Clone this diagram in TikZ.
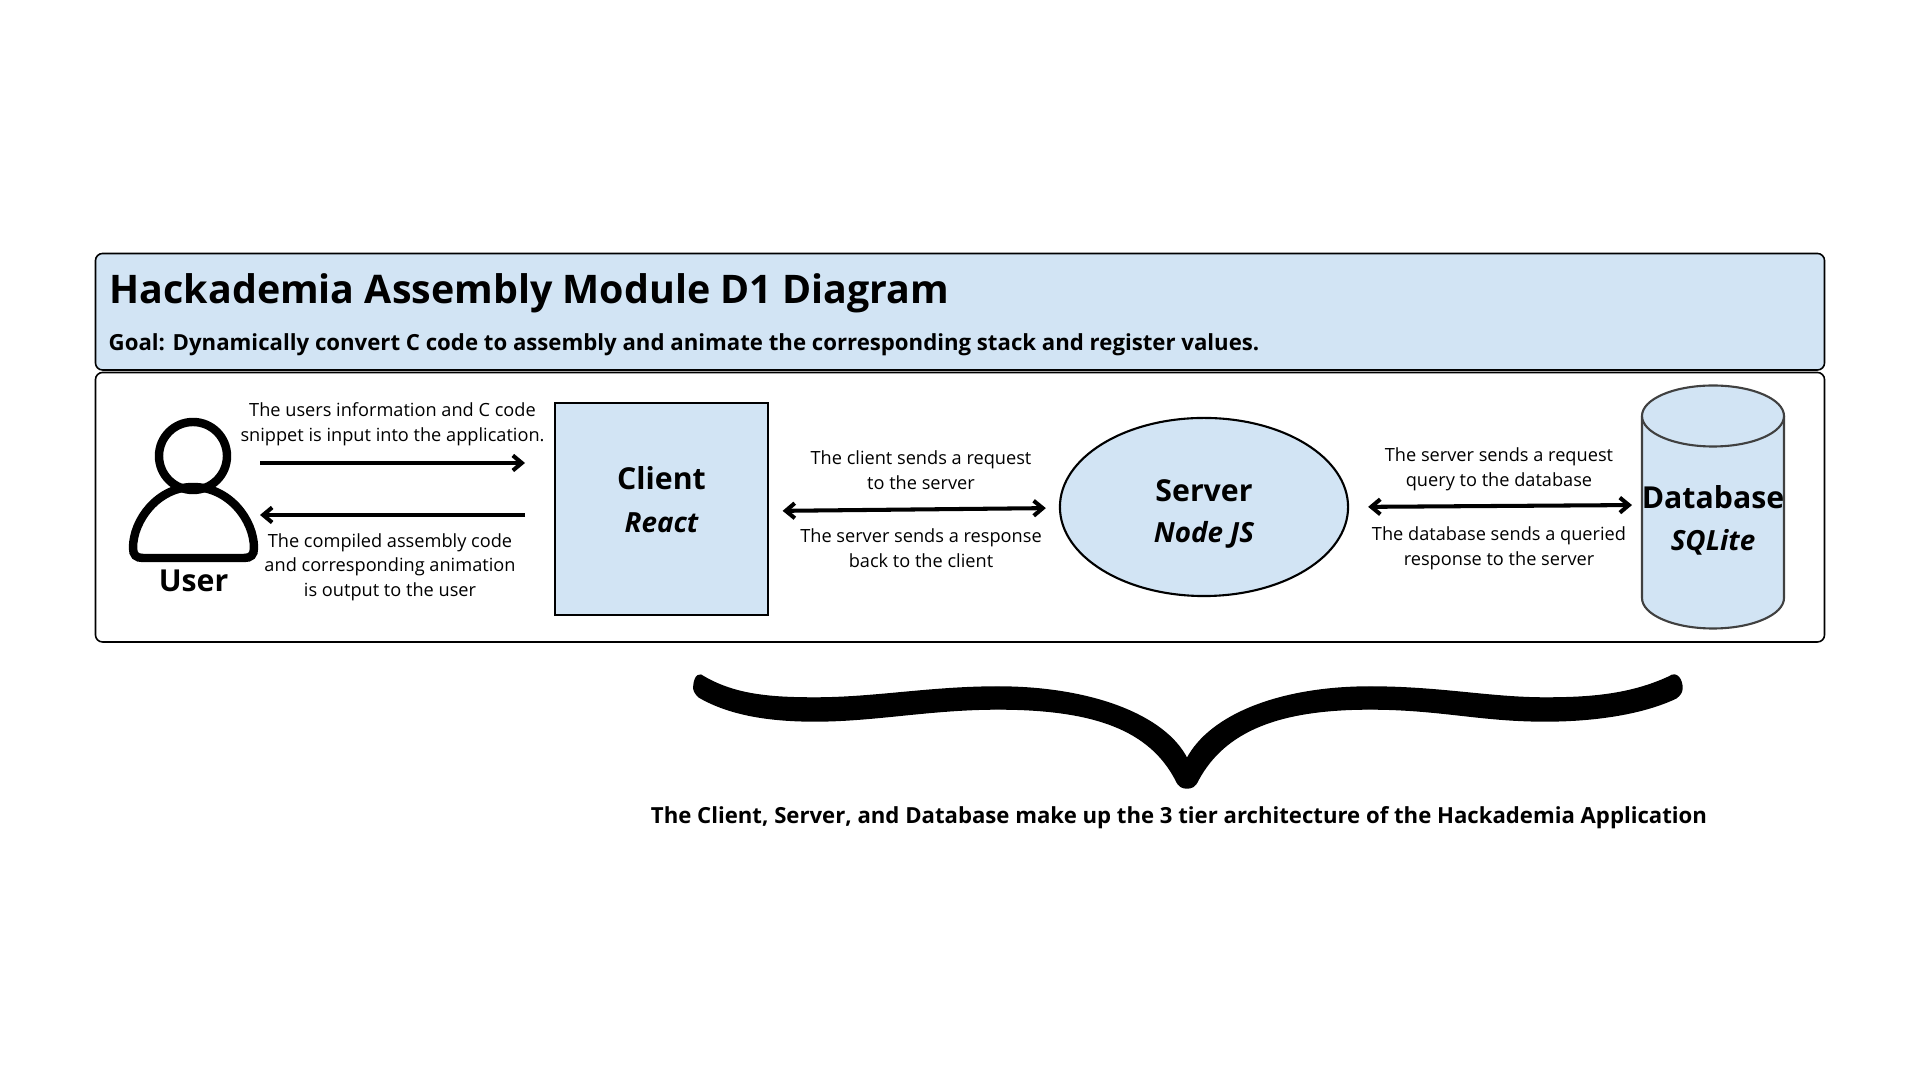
\documentclass[tikz,border=0pt]{standalone}
\usepackage{fontspec}
\setmainfont{Open Sans}
\usetikzlibrary{arrows.meta,shapes.geometric}
\definecolor{panelblue}{HTML}{D2E4F4}
\tikzset{
	flowline/.style={line width=1.15pt, >={Straight Barb[length=0.9mm,width=1.5mm]}},
	tiername/.style={inner sep=0pt, font=\fontsize{8.6}{10}\selectfont\bfseries},
	tiertool/.style={inner sep=0pt, font=\fontsize{7.9}{9}\selectfont\bfseries\itshape},
	flownote/.style={inner sep=0pt, align=center, font=\fontsize{5.17}{7}\selectfont},
}
\begin{document}
\begin{tikzpicture}[x=0.01cm, y=-0.01cm]
		%%%%% START %%%%%
		\useasboundingbox (0, 0) rectangle (1920, 1080);
		
		\draw[fill=panelblue, line width=0.45pt, rounded corners=0.07cm] (95.5, 253.5) rectangle (1824.5, 370);
		\draw[line width=0.45pt, rounded corners=0.07cm] (95.5, 372.5) rectangle (1824.5, 642);
		
		\node[inner sep=0pt, anchor=west, font=\fontsize{11.2}{14}\selectfont\bfseries] (title) at (109, 293) {Hackademia Assembly Module D1 Diagram};
		\node[inner sep=0pt, anchor=west, font=\fontsize{6.31}{8}\selectfont\bfseries] (goal) at (108, 344.5) {Goal: Dynamically convert C code to assembly and animate the corresponding stack and register values.};
		
		% user icon
		\draw[line width=2.4pt] (193, 456) circle (34);
		\draw[line width=2.4pt] (193, 487) .. controls (158, 487) and (133, 520) .. (133, 548) .. controls (133, 555) and (136, 558) .. (143, 558) -- (244, 558) .. controls (251, 558) and (254, 555) .. (254, 548) .. controls (254, 520) and (229, 487) .. (193, 487) -- cycle;
		\node[tiername] (user) at (193.5, 581) {User};
		
		\node[draw, fill=panelblue, line width=0.6pt, minimum width=2.12cm, minimum height=2.12cm] (client) at (661.5, 509) {};
		\node[tiername] (clientname) at (661.5, 478.5) {Client};
		\node[tiertool] (clienttool) at (661.5, 523) {React};
		
		\node[draw, fill=panelblue, ellipse, line width=0.6pt, minimum width=2.88cm, minimum height=1.78cm] (server) at (1204, 507) {};
		\node[tiername] (servername) at (1204, 491) {Server};
		\node[tiertool] (servertool) at (1204, 535) {Node JS};
		
		% database drum
		\coordinate (dbport) at (1642, 505);
		\draw[draw=black!75, fill=panelblue, line width=0.6pt] (1642, 416) -- (1642, 598) arc (180:0:71 and 30.5) -- (1784, 416);
		\draw[draw=black!75, fill=panelblue, line width=0.6pt] (1713, 416) ellipse (71 and 30.5);
		\node[tiername] (dbname) at (1713, 497) {Database};
		\node[tiertool] (dbtool) at (1713, 542.5) {SQLite};
		
		\coordinate (inA) at (260, 463);
		\coordinate (inB) at (525, 463);
		\coordinate (outA) at (525, 515);
		\coordinate (outB) at (260, 515);
		\draw[flowline, ->] (inA) -- (inB);
		\draw[flowline, ->] (outA) -- (outB);
		\node[flownote] (innote) at (392.5, 424) {The users information and C code\\snippet is input into the application.};
		\node[flownote] (outnote) at (390, 567) {The compiled assembly code\\and corresponding animation\\is output to the user};
		
		\draw[flowline, <->, shorten <=0.14cm, shorten >=0.13cm] ([yshift=-0.02cm]client.east) -- ([yshift=-0.01cm]server.west);
		\node[flownote] (reqnote) at (921, 470) {The client sends a request\\to the server};
		\node[flownote] (resnote) at (921, 548) {The server sends a response\\back to the client};
		
		\draw[flowline, <->, shorten <=0.19cm, shorten >=0.1cm] (server.east) -- (dbport);
		\node[flownote] (querynote) at (1499, 469.5) {The server sends a request\\query to the database};
		\node[flownote] (replynote) at (1499, 548.5) {The database sends a queried\\response to the server};
		
		% brace
		\draw[fill=black] (704, 677) .. controls (735, 695) and (770, 698) .. (815, 698)
			.. controls (875, 698) and (930, 687) .. (998, 687)
			.. controls (1090, 687) and (1165, 715) .. (1187, 759)
			.. controls (1210, 715) and (1280, 687) .. (1370, 687)
			.. controls (1440, 687) and (1490, 698) .. (1545, 698)
			.. controls (1590, 698) and (1630, 695) .. (1669, 677)
			.. controls (1677, 671) and (1682, 680) .. (1682, 688)
			.. controls (1682, 692) and (1680, 695) .. (1676, 698)
			.. controls (1640, 715) and (1590, 721) .. (1545, 721)
			.. controls (1480, 721) and (1440, 709) .. (1370, 709)
			.. controls (1280, 709) and (1225, 730) .. (1198, 780)
			.. controls (1195, 787) and (1191, 788) .. (1187, 788)
			.. controls (1183, 788) and (1179, 787) .. (1176, 780)
			.. controls (1150, 730) and (1095, 709) .. (998, 709)
			.. controls (930, 709) and (875, 721) .. (815, 721)
			.. controls (770, 721) and (730, 715) .. (699, 697)
			.. controls (695, 693) and (693, 690) .. (694, 685)
			.. controls (695, 675) and (700, 673) .. (704, 677) -- cycle;
		
		\node[inner sep=0pt, font=\fontsize{6.3}{8}\selectfont\bfseries] (tiernote) at (1179, 817.5) {The Client, Server, and Database make up the 3 tier architecture of the Hackademia Application};
		%%%%% END %%%%%
\end{tikzpicture}
\end{document}
